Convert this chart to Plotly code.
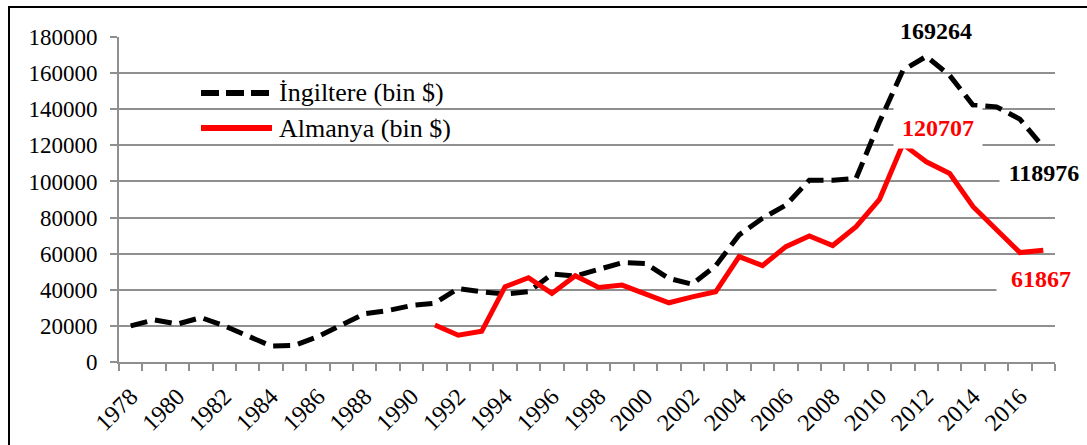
import plotly.graph_objects as go

years = list(range(1978, 2018))
england = [20000, 23300, 21000, 24600, 20000, 14100, 8900, 9200, 14000, 20500,
           26700, 28500, 31300, 32600, 40700, 38900, 37600, 38900, 48700, 47600,
           51300, 55000, 54600, 46300, 43100, 53300, 70400, 79600, 86900, 100700,
           100700, 101700, 133000, 161500, 169264, 158700, 142200, 141300, 134500, 118976]
germany_years = list(range(1991, 2018))
germany = [20500, 14800, 17000, 41700, 46700, 38000, 47800, 41300, 42600, 38000,
           32800, 36100, 38900, 58400, 53400, 63900, 69800, 64500, 75000, 90100,
           120707, 110900, 104400, 86000, 73100, 60600, 61867]
name_en = "İngiltere (bin $)"
name_de = "Almanya (bin $)"
y_ticks = list(range(0, 180001, 20000))

FONT = "Liberation Serif, Times New Roman, serif"
GRID = "#8f8f8f"
W, H = 1087, 445
L, R, T, B = 119, 32, 37, 83
pw, ph = W - L - R, H - T - B

def px(xp):
    return (xp - L) / pw

def py(yp):
    return (H - B - yp) / ph

fig = go.Figure()
fig.add_trace(go.Scatter(x=years, y=england, mode="lines", name=name_en,
                         line=dict(color="black", width=5, dash="17px,8px"),
                         showlegend=False))
fig.add_trace(go.Scatter(x=germany_years, y=germany, mode="lines", name=name_de,
                         line=dict(color="#ff0000", width=5),
                         showlegend=False))

# data labels
i_en_max = england.index(max(england))
i_de_max = germany.index(max(germany))
labels = [
    (years[i_en_max], england[i_en_max], "black", 10, 25),
    (germany_years[i_de_max], germany[i_de_max], "#ff0000", 35, 16),
    (years[-1], england[-1], "black", 1, -26),
    (germany_years[-1], germany[-1], "#ff0000", -2, -29),
]
for x, y, c, xs, ys in labels:
    fig.add_annotation(x=x, y=y, xref="x", yref="y", text=f"<b>{y}</b>",
                       showarrow=False, xshift=xs, yshift=ys,
                       font=dict(family=FONT, size=24, color=c),
                       bgcolor="white", width=86, height=38)

# manual legend
shapes = []
shapes.append(dict(type="line", xref="paper", yref="paper",
                   x0=px(201), x1=px(272), y0=py(93), y1=py(93),
                   line=dict(color="black", width=6, dash="18px,7px")))
shapes.append(dict(type="line", xref="paper", yref="paper",
                   x0=px(201), x1=px(272), y0=py(128), y1=py(128),
                   line=dict(color="#ff0000", width=6)))
# outer frame
shapes.append(dict(type="rect", xref="paper", yref="paper",
                   x0=px(9), x1=px(1100), y0=py(7), y1=py(460),
                   line=dict(color="black", width=2), fillcolor="rgba(0,0,0,0)"))
fig.update_layout(shapes=shapes)
for yy, t in [(93, name_en), (128, name_de)]:
    fig.add_annotation(x=px(277), y=py(yy), xref="paper", yref="paper", text=t,
                       showarrow=False, xanchor="left", yanchor="middle",
                       font=dict(family=FONT, size=26, color="black"))

fig.update_layout(
    width=W, height=H, autosize=False,
    margin=dict(l=L, r=R, t=T, b=B, autoexpand=False),
    paper_bgcolor="white", plot_bgcolor="white",
    font=dict(family=FONT, color="black"),
    xaxis=dict(range=[1977.5, 2017.5], tickmode="linear", tick0=1978, dtick=2,
               ticks="", tickangle=-45, tickfont=dict(size=24),
               showgrid=False, showline=True, linecolor=GRID, linewidth=2,
               zeroline=False, ticklabelstandoff=9, automargin=False,
               minor=dict(tick0=1977.5, dtick=1, ticks="outside", ticklen=7,
                          tickcolor=GRID, tickwidth=2, showgrid=False)),
    yaxis=dict(range=[0, 180000], tickvals=y_ticks, tickformat="d",
               ticks="outside", ticklen=7, tickcolor=GRID, tickwidth=2,
               tickfont=dict(size=23), ticklabelstandoff=8, automargin=False,
               showgrid=True, gridcolor=GRID, gridwidth=2,
               showline=True, linecolor=GRID, linewidth=2, zeroline=False),
)

fig.write_html("out.html", config={"displayModeBar": False},
               post_script="document.body.style.margin='0px';")
